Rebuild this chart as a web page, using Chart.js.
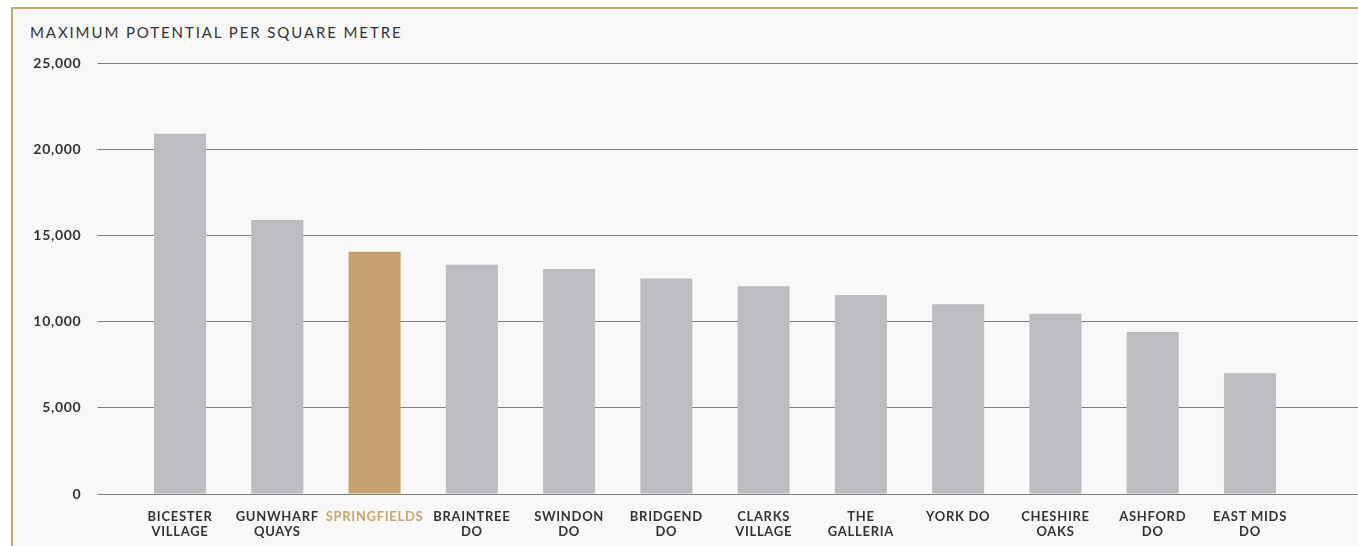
<!DOCTYPE html>
<html>
<head>
<meta charset="utf-8">
<script src="https://cdn.jsdelivr.net/npm/chart.js@4"></script>
<style>
  html, body { margin: 0; padding: 0; background: #ffffff; overflow: hidden; }
  body { width: 1358px; height: 546px; position: relative; }
  #frame { position: absolute; left: 11px; top: 7px; width: 1400px; height: 600px;
           border: 2px solid #c9a46e; background: #f8f8f8; }
  #title { position: absolute; left: 30px; top: 22px; font-family: Lato, "Open Sans", sans-serif;
           font-size: 15px; line-height: 20px; letter-spacing: 1.9px; color: #333333; }
  #c { position: absolute; left: 0; top: 0; }
</style>
</head>
<body>
<div id="frame"></div>
<div id="title">MAXIMUM POTENTIAL PER SQUARE METRE</div>
<canvas id="c" width="1358" height="546"></canvas>
<script>
const categories = [
  ["BICESTER", "VILLAGE"], ["GUNWHARF", "QUAYS"], ["SPRINGFIELDS"], ["BRAINTREE", "DO"],
  ["SWINDON", "DO"], ["BRIDGEND", "DO"], ["CLARKS", "VILLAGE"], ["THE", "GALLERIA"],
  ["YORK DO"], ["CHESHIRE", "OAKS"], ["ASHFORD", "DO"], ["EAST MIDS", "DO"]
];
const values = [20900, 15900, 14050, 13300, 13050, 12500, 12050, 11550, 11000, 10450, 9400, 7000];
const highlightIndex = 2;
const yTicks = [0, 5000, 10000, 15000, 20000, 25000];

const GREY = '#bcbdc0';
const GOLD = '#c6a170';
const GOLD_TEXT = '#c9a46e';
const GRID = '#7f7f7f';

const spacingPlugin = {
  id: 'spacing',
  beforeUpdate(chart) { chart.ctx.letterSpacing = '0.7px'; },
  beforeDraw(chart) { chart.ctx.letterSpacing = '0.7px'; }
};

new Chart(document.getElementById('c'), {
  type: 'bar',
  data: {
    labels: categories,
    datasets: [{
      data: values,
      backgroundColor: values.map((v, i) => i === highlightIndex ? GOLD : GREY),
      borderWidth: 0,
      categoryPercentage: 1,
      barPercentage: 0.535
    }]
  },
  options: {
    responsive: false,
    animation: false,
    devicePixelRatio: 1,
    layout: { padding: { top: 63, bottom: 0, left: 0, right: 0 } },
    plugins: { legend: { display: false }, tooltip: { enabled: false }, title: { display: false } },
    scales: {
      x: {
        grid: { display: false },
        border: { display: false },
        ticks: {
          padding: 7,
          autoSkip: false,
          maxRotation: 0,
          font: { family: 'Lato', size: 13, weight: 'bold', lineHeight: 1.18 },
          color: (ctx) => ctx.index === highlightIndex ? GOLD_TEXT : '#333333'
        },
        afterFit(scale) { scale.height = 52; }
      },
      y: {
        position: 'left',
        min: 0, max: 25000,
        afterBuildTicks(scale) { scale.ticks = yTicks.map(v => ({ value: v })); },
        grid: { color: GRID, lineWidth: 1, tickLength: 34, drawTicks: true },
        border: { display: false },
        ticks: {
          padding: 16,
          font: { family: 'Lato', size: 14, weight: 'bold' },
          color: '#333333',
          callback: (v) => v.toLocaleString('en-GB')
        },
        afterFit(scale) { scale.width = 131.4; }
      },
      y2: {
        position: 'right',
        display: true,
        min: 0, max: 25000,
        afterBuildTicks(scale) { scale.ticks = yTicks.map(v => ({ value: v })); },
        grid: { display: true, color: GRID, lineWidth: 1, tickLength: 62, drawTicks: true, drawOnChartArea: true },
        border: { display: false },
        ticks: { display: false },
        afterFit(scale) { scale.width = 59.4; }
      }
    }
  },
  plugins: [spacingPlugin]
});
</script>
</body>
</html>
